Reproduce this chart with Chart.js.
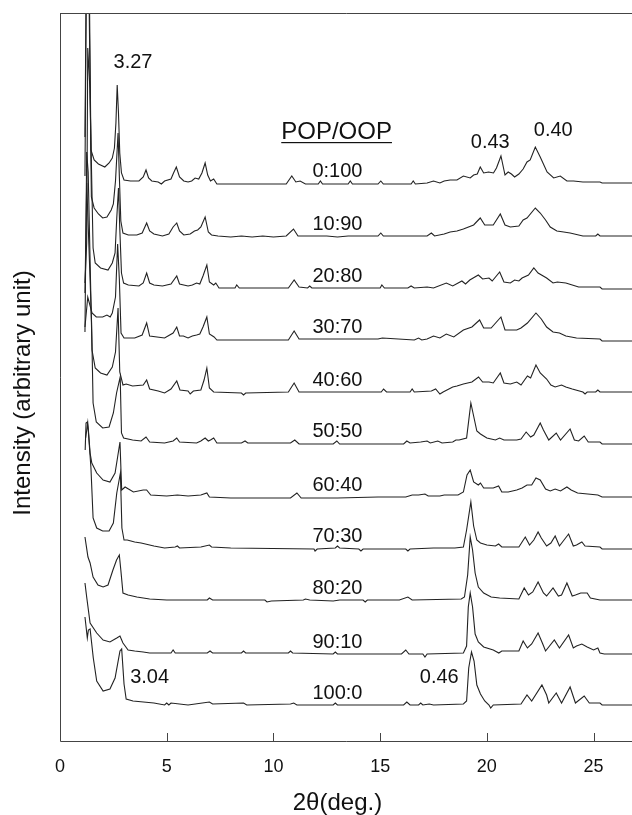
<!DOCTYPE html>
<html>
<head>
<meta charset="utf-8">
<title>POP/OOP XRD patterns</title>
<script src="https://cdn.jsdelivr.net/npm/chart.js@4.4.1/dist/chart.umd.min.js"></script>
<style>
    html, body { margin: 0; padding: 0; background: #fff; }
    #wrap { width: 632px; height: 815px; position: relative; }
</style>
</head>
<body>
<div id="wrap"><canvas id="xrdChart"></canvas></div>
<script>
// Sample names (POP/OOP ratio), from top trace to bottom trace
const ratios = ['0:100', '10:90', '20:80', '30:70', '40:60', '50:50', '60:40', '70:30', '80:20', '90:10', '100:0'];

// Vertical stacking offset of each trace (arbitrary intensity units)
const offsets = [558, 505, 453, 402, 349, 298, 244, 193, 141, 87, 36];

// x axis ticks, 2theta (deg.)
const xTicks = [0, 5, 10, 15, 20, 25];

// Each trace: [2theta, intensity above its own baseline]
const pattern0 = [[1.17, 46], [1.25, 260], [1.35, 250], [1.45, 33], [1.6, 23], [1.8, 19], [2.1, 16], [2.3, 20], [2.45, 25], [2.55, 35], [2.62, 60], [2.68, 98], [2.74, 70], [2.8, 30], [2.88, 10], [3.0, 3], [3.3, 2], [3.7, 2], [3.9, 6], [4.03, 13], [4.15, 5], [4.3, 2], [4.6, 1], [4.75, -1], [4.9, 2], [5.2, 4], [5.32, 10], [5.45, 16], [5.6, 6], [5.8, 2], [6.0, 1], [6.17, 2], [6.33, 5], [6.5, 4], [6.65, 10], [6.8, 20], [6.92, 8], [7.05, 2], [7.2, 4], [7.35, -1], [10.6, -1], [10.86, 7], [11.05, 1], [11.25, 2], [11.5, -1], [12.1, -1], [12.2, 2], [12.3, -1], [13.5, -1], [13.6, 2], [13.7, -1], [14.9, -1], [15.03, 2], [15.15, -1], [16.45, -1], [16.55, 2], [16.65, -1], [17.2, 0], [17.5, 2], [17.8, 0], [18.0, 2], [18.28, 3], [18.6, 3], [18.9, 7], [19.22, 5], [19.38, 8], [19.55, 9], [19.69, 16], [19.85, 10], [20.08, 11], [20.31, 10], [20.45, 15], [20.66, 27], [20.85, 8], [21.0, 11], [21.15, 9], [21.3, 6], [21.5, 9], [21.7, 14], [21.88, 21], [22.03, 23], [22.27, 36], [22.5, 26], [22.82, 11], [23.13, 5], [23.44, 7], [23.75, 2], [24.06, 2], [24.5, 1], [25.3, 1], [25.4, 0], [26.8, 0]];
const pattern1 = [[1.17, 60], [1.25, 300], [1.35, 260], [1.47, 39], [1.6, 28], [1.8, 22], [2.0, 18], [2.2, 19], [2.4, 26], [2.5, 32], [2.6, 55], [2.72, 103], [2.78, 60], [2.85, 15], [2.95, 3], [3.2, 1], [3.6, 1], [3.85, 3], [4.06, 13], [4.2, 5], [4.4, 2], [4.8, 0], [5.1, 2], [5.3, 9], [5.47, 13], [5.6, 5], [5.8, 1], [6.1, 2], [6.3, 5], [6.45, 6], [6.6, 9], [6.8, 19], [6.95, 4], [7.1, 1], [7.4, 0], [8.0, -1], [8.5, 0], [9.0, -1], [9.5, 0], [10.0, -1], [10.6, 0], [10.94, 7], [11.15, 0], [12.5, 0], [13.0, -1], [13.5, 0], [14.9, 0], [15.03, 3], [15.15, 0], [17.2, 0], [17.4, 3], [17.55, 0], [18.0, 2], [18.28, 4], [18.6, 5], [18.9, 7], [19.38, 11], [19.69, 18], [19.9, 11], [20.3, 11], [20.63, 22], [20.85, 11], [21.1, 9], [21.5, 10], [21.7, 16], [21.88, 18], [22.27, 28], [22.5, 23], [22.75, 16], [22.97, 9], [23.28, 5], [23.6, 4], [23.9, 3], [24.5, 0], [25.1, 0], [25.2, 2], [25.3, 0], [26.8, 0]];
const pattern2 = [[1.17, 5], [1.25, 45], [1.3, 240], [1.4, 200], [1.55, 40], [1.65, 25], [1.9, 20], [2.25, 18], [2.45, 25], [2.58, 35], [2.66, 70], [2.74, 100], [2.8, 60], [2.88, 15], [2.98, 5], [3.2, 3], [3.7, 2], [3.9, 5], [4.06, 15], [4.2, 5], [4.4, 3], [4.8, 2], [5.2, 4], [5.47, 12], [5.6, 4], [6.0, 2], [6.2, 3], [6.4, 5], [6.55, 4], [6.7, 12], [6.88, 23], [7.0, 6], [7.2, 3], [7.3, 5], [7.45, 0], [8.2, 0], [8.28, 3], [8.4, 0], [10.7, 0], [10.97, 8], [11.2, 1], [11.6, 0], [11.7, 2], [11.8, 0], [15.0, 0], [15.08, 3], [15.2, 0], [16.3, 0], [16.45, 2], [16.6, 0], [17.2, 1], [17.5, 0], [18.1, 5], [18.4, 2], [18.83, 7], [19.0, 4], [19.2, 8], [19.6, 13], [19.8, 9], [20.1, 10], [20.25, 7], [20.6, 16], [20.8, 6], [21.1, 5], [21.3, 8], [21.5, 7], [21.65, 10], [21.95, 13], [22.2, 20], [22.4, 15], [22.8, 10], [23.1, 5], [23.3, 6], [23.7, 5], [24.0, 3], [24.3, 1], [25.3, 1], [25.4, -1], [26.8, -1]];
const pattern3 = [[1.17, 12], [1.3, 42], [1.5, 26], [1.7, 22], [2.0, 22], [2.2, 24], [2.35, 22], [2.45, 26], [2.6, 42], [2.7, 95], [2.78, 60], [2.86, 6], [3.0, 1], [3.5, 1], [3.85, 4], [4.06, 16], [4.2, 3], [4.9, 1], [5.3, 6], [5.47, 12], [5.6, 3], [5.78, 3], [6.0, 1], [6.2, 3], [6.4, 4], [6.55, 5], [6.7, 12], [6.88, 22], [7.0, 5], [7.22, 2], [7.35, -1], [10.7, -1], [10.97, 8], [11.2, 0], [12.5, 0], [14.9, 0], [15.1, 1], [16.6, -1], [16.8, 1], [16.95, -1], [17.2, 0], [17.5, 3], [17.8, 1], [18.1, 5], [18.45, 2], [18.9, 9], [19.3, 12], [19.66, 19], [19.85, 11], [20.2, 11], [20.66, 22], [20.85, 9], [21.4, 9], [21.6, 11], [21.9, 16], [22.3, 26], [22.55, 20], [22.8, 12], [23.1, 7], [23.4, 6], [23.7, 3], [24.2, 1], [25.3, 0], [25.4, -2], [26.8, -2]];
const pattern4 = [[1.17, 60], [1.25, 240], [1.32, 220], [1.5, 42], [1.65, 24], [1.9, 19], [2.2, 17], [2.45, 25], [2.6, 40], [2.72, 84], [2.8, 20], [2.95, 7], [3.1, 8], [3.4, 6], [3.9, 7], [4.06, 12], [4.2, 3], [4.6, 1], [4.9, -1], [5.2, 3], [5.47, 11], [5.62, 2], [6.0, 1], [6.1, -2], [6.25, 1], [6.6, 2], [6.75, 12], [6.88, 24], [7.0, 4], [7.2, 0], [8.5, -1], [8.6, -3], [8.7, -1], [10.7, 0], [10.97, 9], [11.2, 0], [15.05, 0], [15.16, 3], [15.3, 0], [16.4, 0], [16.5, 3], [16.6, 0], [17.4, 1], [17.6, 3], [17.8, -2], [17.95, 0], [18.4, 5], [18.6, 6], [18.9, 8], [19.3, 10], [19.61, 15], [19.8, 10], [20.1, 10], [20.3, 9], [20.63, 19], [20.8, 9], [21.1, 8], [21.4, 10], [21.6, 7], [21.9, 16], [22.05, 14], [22.3, 27], [22.5, 19], [22.8, 13], [23.0, 7], [23.2, 5], [23.5, 7], [23.7, 5], [24.0, 3], [24.5, 0], [24.6, -2], [24.7, 0], [25.1, 0], [25.2, 2], [25.3, 0], [26.8, 0]];
const pattern5 = [[1.17, 150], [1.25, 260], [1.35, 200], [1.48, 120], [1.55, 40], [1.7, 21], [2.0, 15], [2.3, 16], [2.5, 30], [2.65, 50], [2.82, 66], [2.88, 10], [2.98, 5], [3.4, 3], [3.8, 2], [4.03, 6], [4.2, 1], [4.9, 0], [5.3, 2], [5.47, 5], [5.6, 1], [6.4, 0], [6.6, 2], [6.8, 5], [6.95, 2], [7.05, 3], [7.2, 5], [7.35, 0], [8.5, 0], [8.67, 2], [8.8, 0], [10.8, 0], [11.0, 3], [11.2, -1], [12.8, -1], [12.97, 2], [13.1, -1], [16.1, -1], [16.25, 2], [16.4, 0], [16.9, 1], [17.2, 2], [17.35, 0], [17.7, 2], [17.9, 0], [18.4, 1], [18.55, 3], [18.7, 3], [19.05, 5], [19.25, 40], [19.38, 27], [19.53, 12], [19.7, 9], [20.0, 5], [20.4, 3], [20.6, 5], [20.8, 3], [21.4, 3], [21.6, 4], [21.84, 11], [22.05, 6], [22.2, 8], [22.5, 20], [22.65, 13], [22.9, 3], [23.25, 10], [23.45, 3], [23.9, 14], [24.1, 3], [24.3, 2], [24.56, 7], [24.75, 1], [25.3, 1], [25.4, -1], [26.8, -1]];
const pattern6 = [[1.18, 47], [1.22, 74], [1.28, 75], [1.33, 67], [1.41, 44], [1.49, 34], [1.72, 24], [2.02, 17], [2.34, 15], [2.58, 24], [2.7, 40], [2.81, 55], [2.89, 7], [3.05, 10], [3.44, 5], [3.9, 7], [4.06, 7], [4.25, 2], [5.0, 1], [5.5, 2], [6.0, 1], [6.6, 2], [6.88, 4], [7.0, 0], [8.0, -1], [10.8, -1], [11.1, 4], [11.3, -1], [13.0, -1], [14.9, 0], [16.2, 0], [16.5, 2], [16.8, 2], [17.1, 3], [17.25, 1], [17.8, 1], [18.0, 2], [18.65, 2], [18.9, 5], [19.07, 22], [19.22, 27], [19.38, 15], [19.6, 12], [19.7, 14], [19.85, 9], [20.3, 9], [20.55, 11], [20.7, 5], [21.0, 5], [21.4, 7], [21.65, 9], [21.88, 12], [22.1, 12], [22.3, 19], [22.5, 17], [22.75, 8], [22.97, 6], [23.2, 8], [23.45, 6], [23.75, 10], [23.95, 7], [24.25, 4], [25.2, 2], [25.4, 0], [26.8, 0]];
const pattern7 = [[1.2, 110], [1.3, 125], [1.45, 80], [1.55, 30], [1.72, 20], [2.0, 17], [2.3, 17], [2.5, 25], [2.66, 55], [2.83, 75], [2.9, 20], [3.0, 8], [3.15, 8], [3.5, 6], [3.8, 5], [4.4, 2], [4.9, 0], [5.4, 1], [5.5, 2], [5.6, 0], [6.6, 1], [7.0, 3], [7.1, 1], [8.0, 0], [11.9, -1], [11.95, -3], [12.05, -1], [12.9, 0], [13.0, 2], [13.1, 0], [14.0, -1], [14.1, -3], [14.2, -1], [16.2, -1], [16.3, -3], [16.4, -1], [17.5, 0], [18.5, 0], [18.9, 1], [19.05, 18], [19.25, 46], [19.38, 22], [19.53, 8], [19.7, 5], [20.0, 3], [20.4, 2], [20.55, 4], [20.7, 1], [21.5, 1], [21.62, 5], [21.8, 11], [22.0, 3], [22.2, 8], [22.4, 16], [22.55, 10], [22.8, 2], [23.0, 5], [23.2, 12], [23.4, 2], [23.83, 14], [24.05, 2], [24.2, 3], [24.45, 6], [24.6, 2], [25.3, 1], [25.4, -1], [26.8, -1]];
const pattern8 = [[1.17, 63], [1.31, 43], [1.41, 37], [1.55, 23], [1.78, 15], [2.02, 13], [2.25, 15], [2.48, 30], [2.65, 40], [2.78, 45], [2.85, 30], [2.95, 7], [3.19, 5], [3.6, 3], [4.2, 1], [5.0, 0], [6.9, 0], [7.0, 2], [7.15, 0], [9.6, 0], [9.7, -2], [9.9, -1], [11.4, 0], [11.5, 1], [11.7, 0], [12.8, -1], [13.1, 0], [14.2, 0], [14.3, -2], [14.4, 0], [15.9, 0], [16.3, 3], [16.5, 0], [18.8, 1], [18.95, 3], [19.1, 25], [19.22, 63], [19.33, 50], [19.45, 27], [19.6, 13], [19.85, 7], [20.2, 3], [20.6, 2], [21.5, 1], [21.75, 12], [21.95, 5], [22.15, 8], [22.4, 18], [22.65, 7], [22.8, 4], [23.1, 12], [23.35, 4], [23.5, 5], [23.75, 17], [24.0, 4], [24.15, 5], [24.4, 7], [24.7, 7], [24.85, 2], [25.3, 0], [26.8, 0]];
const pattern9 = [[1.17, 71], [1.25, 57], [1.41, 31], [1.72, 21], [2.02, 14], [2.34, 12], [2.66, 16], [2.81, 18], [2.95, 11], [3.19, 4], [3.5, 3], [3.9, 2], [4.2, 1], [5.2, 1], [5.3, 4], [5.4, 1], [6.9, 1], [7.03, 3], [7.15, 1], [8.5, 1], [8.6, 3], [8.7, 1], [10.7, 1], [10.8, 3], [10.9, 1], [12.8, 0], [12.9, 2], [13.0, 0], [16.0, 0], [16.2, 4], [16.35, 0], [17.0, 0], [17.1, -3], [17.2, 0], [18.9, 1], [19.05, 8], [19.13, 47], [19.22, 61], [19.33, 47], [19.45, 20], [19.6, 12], [19.85, 7], [20.3, 4], [20.56, 1], [20.7, 3], [21.5, 3], [21.7, 13], [21.9, 6], [22.1, 10], [22.4, 21], [22.6, 11], [22.75, 3], [23.16, 14], [23.4, 6], [23.83, 19], [24.05, 6], [24.2, 8], [24.45, 10], [24.7, 7], [25.0, 4], [25.2, 6], [25.3, 1], [25.5, 0], [26.8, 0]];
const pattern10 = [[1.17, 88], [1.28, 67], [1.33, 75], [1.41, 76], [1.56, 47], [1.72, 24], [2.02, 14], [2.34, 16], [2.58, 27], [2.81, 54], [2.89, 56], [3.0, 21], [3.1, 6], [3.42, 4], [4.4, 2], [4.9, 0], [5.0, 2], [5.1, 0], [5.2, 2], [6.0, 0], [7.0, 3], [7.15, 1], [8.6, 2], [8.75, 0], [10.8, 1], [10.95, 2], [11.1, 0], [12.8, 0], [12.9, 2], [13.0, 0], [16.1, 0], [16.25, 3], [16.4, 0], [16.8, 0], [16.9, 2], [17.0, 0], [17.3, 1], [17.5, 0], [18.9, 1], [19.05, 4], [19.15, 37], [19.28, 53], [19.4, 44], [19.53, 20], [19.7, 11], [19.9, 4], [20.1, 0], [20.18, -3], [20.3, 0], [21.6, 1], [21.88, 10], [22.1, 4], [22.58, 20], [22.8, 10], [22.9, 2], [23.25, 12], [23.5, 2], [23.9, 18], [24.15, 2], [24.56, 9], [24.8, 2], [25.3, 2], [25.4, 0], [26.8, 0]];

const patterns = [pattern0, pattern1, pattern2, pattern3, pattern4, pattern5, pattern6, pattern7, pattern8, pattern9, pattern10];

// d-spacing annotations (nm): text, 2theta, intensity
const peakLabels = [['3.27', 3.42, 679], ['0.43', 20.16, 599], ['0.40', 23.11, 611], ['3.04', 4.2, 64], ['0.46', 17.77, 64]];

const fontFamily = '"Liberation Sans", Arial, Helvetica, sans-serif';
const inkColor = '#222';

var datasets = patterns.map(function(pts, i) {
    return {
        label: ratios[i],
        data: pts.map(p => ({ x: p[0], y: offsets[i] + p[1] })),
        showLine: true,
        borderColor: inkColor,
        borderWidth: 1.1,
        pointRadius: 0,
        tension: 0
    };
});

// Frame, ticks and all the texts are drawn here, positioned through the chart scales
const decorations = {
    id: 'decorations',
    afterDraw(chart) {
        const ctx = chart.ctx;
        const xs = chart.scales.x;
        const ys = chart.scales.y;
        const area = chart.chartArea;

        ctx.save();
        ctx.strokeStyle = '#444';
        ctx.lineWidth = 1;
        ctx.beginPath();
        ctx.moveTo(area.left + 0.5, area.top + 0.5);
        ctx.lineTo(area.right, area.top + 0.5);
        ctx.moveTo(area.left + 0.5, area.top);
        ctx.lineTo(area.left + 0.5, area.bottom + 0.5);
        ctx.lineTo(area.right, area.bottom + 0.5);
        xTicks.forEach(t => {
            var px = Math.round(xs.getPixelForValue(t)) + 0.5;
            ctx.moveTo(px, area.bottom);
            ctx.lineTo(px, area.bottom - 8);
        });
        ctx.stroke();

        ctx.fillStyle = '#111';
        ctx.textAlign = 'center';
        ctx.textBaseline = 'middle';

        ctx.font = '18px ' + fontFamily;
        xTicks.forEach(t => {
            ctx.fillText(String(t), xs.getPixelForValue(t), area.bottom + 26);
        });

        ctx.font = '24px ' + fontFamily;
        ctx.fillText('2\u03b8(deg.)', xs.getPixelForValue(13.0), area.bottom + 62);

        ctx.save();
        ctx.translate(area.left - 37, ys.getPixelForValue(348));
        ctx.rotate(-Math.PI / 2);
        ctx.fillText('Intensity (arbitrary unit)', 0, 0);
        ctx.restore();

        // legend title with underline
        var tx = xs.getPixelForValue(12.96);
        var ty = ys.getPixelForValue(609);
        ctx.fillText('POP/OOP', tx, ty);
        var w = ctx.measureText('POP/OOP').width;
        ctx.fillRect(tx - w / 2, ty + 10, w, 1.2);

        ctx.font = '20px ' + fontFamily;
        ratios.forEach((r, i) => {
            ctx.fillText(r, xs.getPixelForValue(13.0), ys.getPixelForValue(offsets[i] + 12));
        });

        peakLabels.forEach(l => {
            ctx.fillText(l[0], xs.getPixelForValue(l[1]), ys.getPixelForValue(l[2]));
        });
        ctx.restore();
    }
};

new Chart(document.getElementById('xrdChart'), {
    type: 'scatter',
    data: { datasets: datasets },
    options: {
        responsive: true,
        maintainAspectRatio: false,
        animation: false,
        layout: { padding: { left: 60, right: 0, top: 13, bottom: 74 } },
        plugins: {
            legend: { display: false },
            tooltip: { enabled: false }
        },
        scales: {
            x: { type: 'linear', min: 0, max: 26.8, display: false },
            y: { type: 'linear', min: 0, max: 728, display: false }
        }
    },
    plugins: [decorations]
});
</script>
</body>
</html>
